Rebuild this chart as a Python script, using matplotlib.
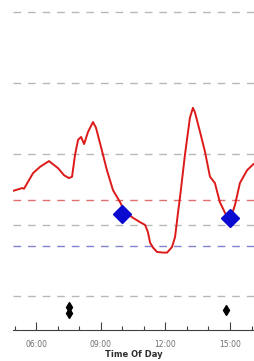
# glucose trace over the day - recreated chart
import matplotlib
matplotlib.use('Agg')
import matplotlib.pyplot as plt
from matplotlib.ticker import FixedLocator, FuncFormatter

# trace, hour of day vs value
hours = [4.93, 5.26, 5.35, 5.44, 5.86, 6.19, 6.60, 7.02, 7.30, 7.53, 7.67, 7.81,
         7.95, 8.09, 8.23, 8.41, 8.64, 8.78, 8.97, 9.29, 9.57, 9.90, 10.13, 10.50,
         10.82, 11.06, 11.19, 11.29, 11.43, 11.61, 11.89, 12.08, 12.31, 12.45,
         12.59, 12.68, 12.91, 13.14, 13.28, 13.37, 13.61, 13.84, 14.07, 14.30,
         14.53, 14.77, 14.91, 15.09, 15.23, 15.46, 15.79, 16.06, 16.16]
values = [148, 151, 152, 151, 173, 182, 190, 180, 170, 166, 168, 199,
          220, 224, 214, 231, 245, 237, 215, 177, 149, 132, 118, 110,
          104, 100, 90, 75, 68, 62, 61, 61, 69, 83,
          118, 139, 199, 251, 265, 259, 231, 203, 168, 159,
          132, 117, 110, 115, 128, 159, 177, 185, 187]

# blue diamonds on the trace
mark_hours = [9.99, 15.0]
mark_values = [115, 110]

# black event markers near the bottom
event_hours = [7.55, 7.53, 14.8]
event_values = [-15, -24, -20]

grid_levels = [0, 100, 200, 300, 400]
high_level = 135
low_level = 70
major_hours = [6, 9, 12, 15]
minor_hours = [5, 7, 8, 10, 11, 13, 14, 16]

plt.rcParams['lines.scale_dashes'] = False
fig = plt.figure(figsize=(2.55, 3.61), dpi=100)
ax = fig.add_axes([0.051, 0.086, 0.949, 0.914])

for g in grid_levels:
    ax.axhline(g, color='#b8b8b8', lw=1.0, ls=(0, (5.5, 5)))
ax.axhline(high_level, color='#e07070', lw=1.0, ls=(0, (5.5, 5)))
ax.axhline(low_level, color='#8080d0', lw=1.0, ls=(0, (5.5, 5)))

ax.plot(hours, values, color='#dd1a1a', lw=1.4, zorder=3)
ax.plot(mark_hours, mark_values, 'D', color='#0a0ad0', ms=9, zorder=4)
ax.plot(event_hours, event_values, 'd', color='black', ms=5, zorder=4)

ax.set_xlim(4.93, 16.16)
ax.set_ylim(-48, 417)

for s in ['left', 'right', 'top']:
    ax.spines[s].set_visible(False)
ax.spines['bottom'].set_color('#404040')
ax.spines['bottom'].set_linewidth(0.8)

ax.xaxis.set_major_locator(FixedLocator(major_hours))
ax.xaxis.set_minor_locator(FixedLocator(minor_hours))
ax.xaxis.set_major_formatter(FuncFormatter(lambda v, p: '%02d:00' % int(v)))
ax.tick_params(axis='x', which='major', direction='in', length=6, width=0.8,
               color='#404040', labelsize=5.5, labelcolor='#707070', pad=7)
ax.tick_params(axis='x', which='minor', direction='in', length=3, width=0.8,
               color='#404040')
ax.set_yticks([])
ax.set_xlabel('Time Of Day', fontsize=6, fontweight='bold', color='#303030',
              labelpad=1)

fig.savefig('out.png', dpi=100)
